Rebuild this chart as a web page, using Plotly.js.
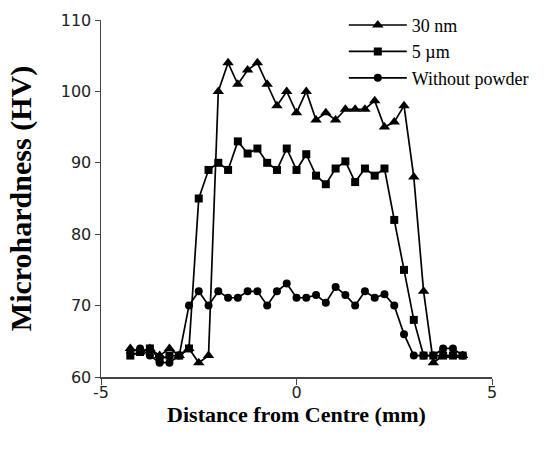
<!DOCTYPE html>
<html>
<head>
<meta charset="utf-8">
<script src="https://cdn.plot.ly/plotly-3.0.1.min.js"></script>
<style>html,body{margin:0;padding:0;background:#fff;}#chart{width:545px;height:450px;}</style>
</head>
<body>
<div id="chart"></div>
<script>
const distance = [-4.25,-4,-3.75,-3.5,-3.25,-3,-2.75,-2.5,-2.25,-2,-1.75,-1.5,-1.25,-1,-0.75,-0.5,-0.25,0,0.25,0.5,0.75,1,1.25,1.5,1.75,2,2.25,2.5,2.75,3,3.25,3.5,3.75,4,4.25];
const nm30 = [64,63.5,64,63,64,63,64,62,63,100,104,101,103,104,101,98,100,97,100,96,97,96,97.5,97.5,97.5,98.7,95,95.7,98,88,72,62,63,63,63];
const um5 = [63,63.5,64,62.5,63,63,64,85,89,90,89,93,91.3,92,90,89,92,89,91.2,88.2,87,89.2,90.2,87.3,89.2,88.2,89.2,82,75,68,63,63,63,63,63];
const noPowder = [63.5,64,63,62,62,63,70,72,70,72,71.1,71.1,72,72,70,72,73.1,71.1,71.1,71.5,70.4,72.6,71.5,70,72,71.1,71.6,70,66,63,63,63,64,64,63];
const seriesNames = ['30 nm', '5 \u00b5m', 'Without powder'];
const xTicks = [-5, 0, 5];
const yTicks = [60, 70, 80, 90, 100, 110];

const serif = 'Liberation Serif, Times New Roman, serif';
const sans = 'DejaVu Sans, Verdana, sans-serif';
function mk(y, name, symbol, size) {
  return {
    x: distance, y: y, name: name, type: 'scatter', mode: 'lines+markers',
    line: {color: '#000', width: 1.7},
    marker: {symbol: symbol, size: size, color: '#000'}
  };
}
const data = [
  mk(nm30, seriesNames[0], 'triangle-up', 10),
  mk(um5, seriesNames[1], 'square', 8),
  mk(noPowder, seriesNames[2], 'circle', 8)
];
const layout = {
  width: 545, height: 450,
  margin: {l: 101, r: 53, t: 20, b: 73, autoexpand: false},
  paper_bgcolor: '#fff', plot_bgcolor: '#fff',
  showlegend: true,
  legend: {x: 0.621, y: 1.037, xanchor: 'left', yanchor: 'top', bgcolor: 'rgba(0,0,0,0)',
           font: {family: serif, size: 18, color: '#000'}, tracegroupgap: 0, itemwidth: 58},
  xaxis: {
    range: [-5, 5], tickvals: xTicks, ticktext: xTicks.map(String),
    showline: true, linecolor: '#444', linewidth: 1.5, ticks: 'outside', ticklen: 6, tickcolor: '#444',
    ticklabelstandoff: -6,
    showgrid: false, zeroline: false, tickfont: {family: sans, size: 16, color: '#222'},
    title: {text: 'Distance from Centre (mm)', font: {family: serif, size: 22, color: '#000', weight: 'bold'}, standoff: 0},
    automargin: false
  },
  yaxis: {
    range: [60, 110], tickvals: yTicks, ticktext: yTicks.map(String),
    showline: true, linecolor: '#444', linewidth: 1.5, ticks: 'outside', ticklen: 5, tickcolor: '#444',
    showgrid: false, zeroline: false, tickfont: {family: sans, size: 16, color: '#222'},
    title: {text: 'Microhardness (HV)', font: {family: serif, size: 30, color: '#000', weight: 'bold'}, standoff: 20},
    automargin: false
  }
};
Plotly.newPlot('chart', data, layout, {displayModeBar: false, staticPlot: true});
</script>
</body>
</html>
